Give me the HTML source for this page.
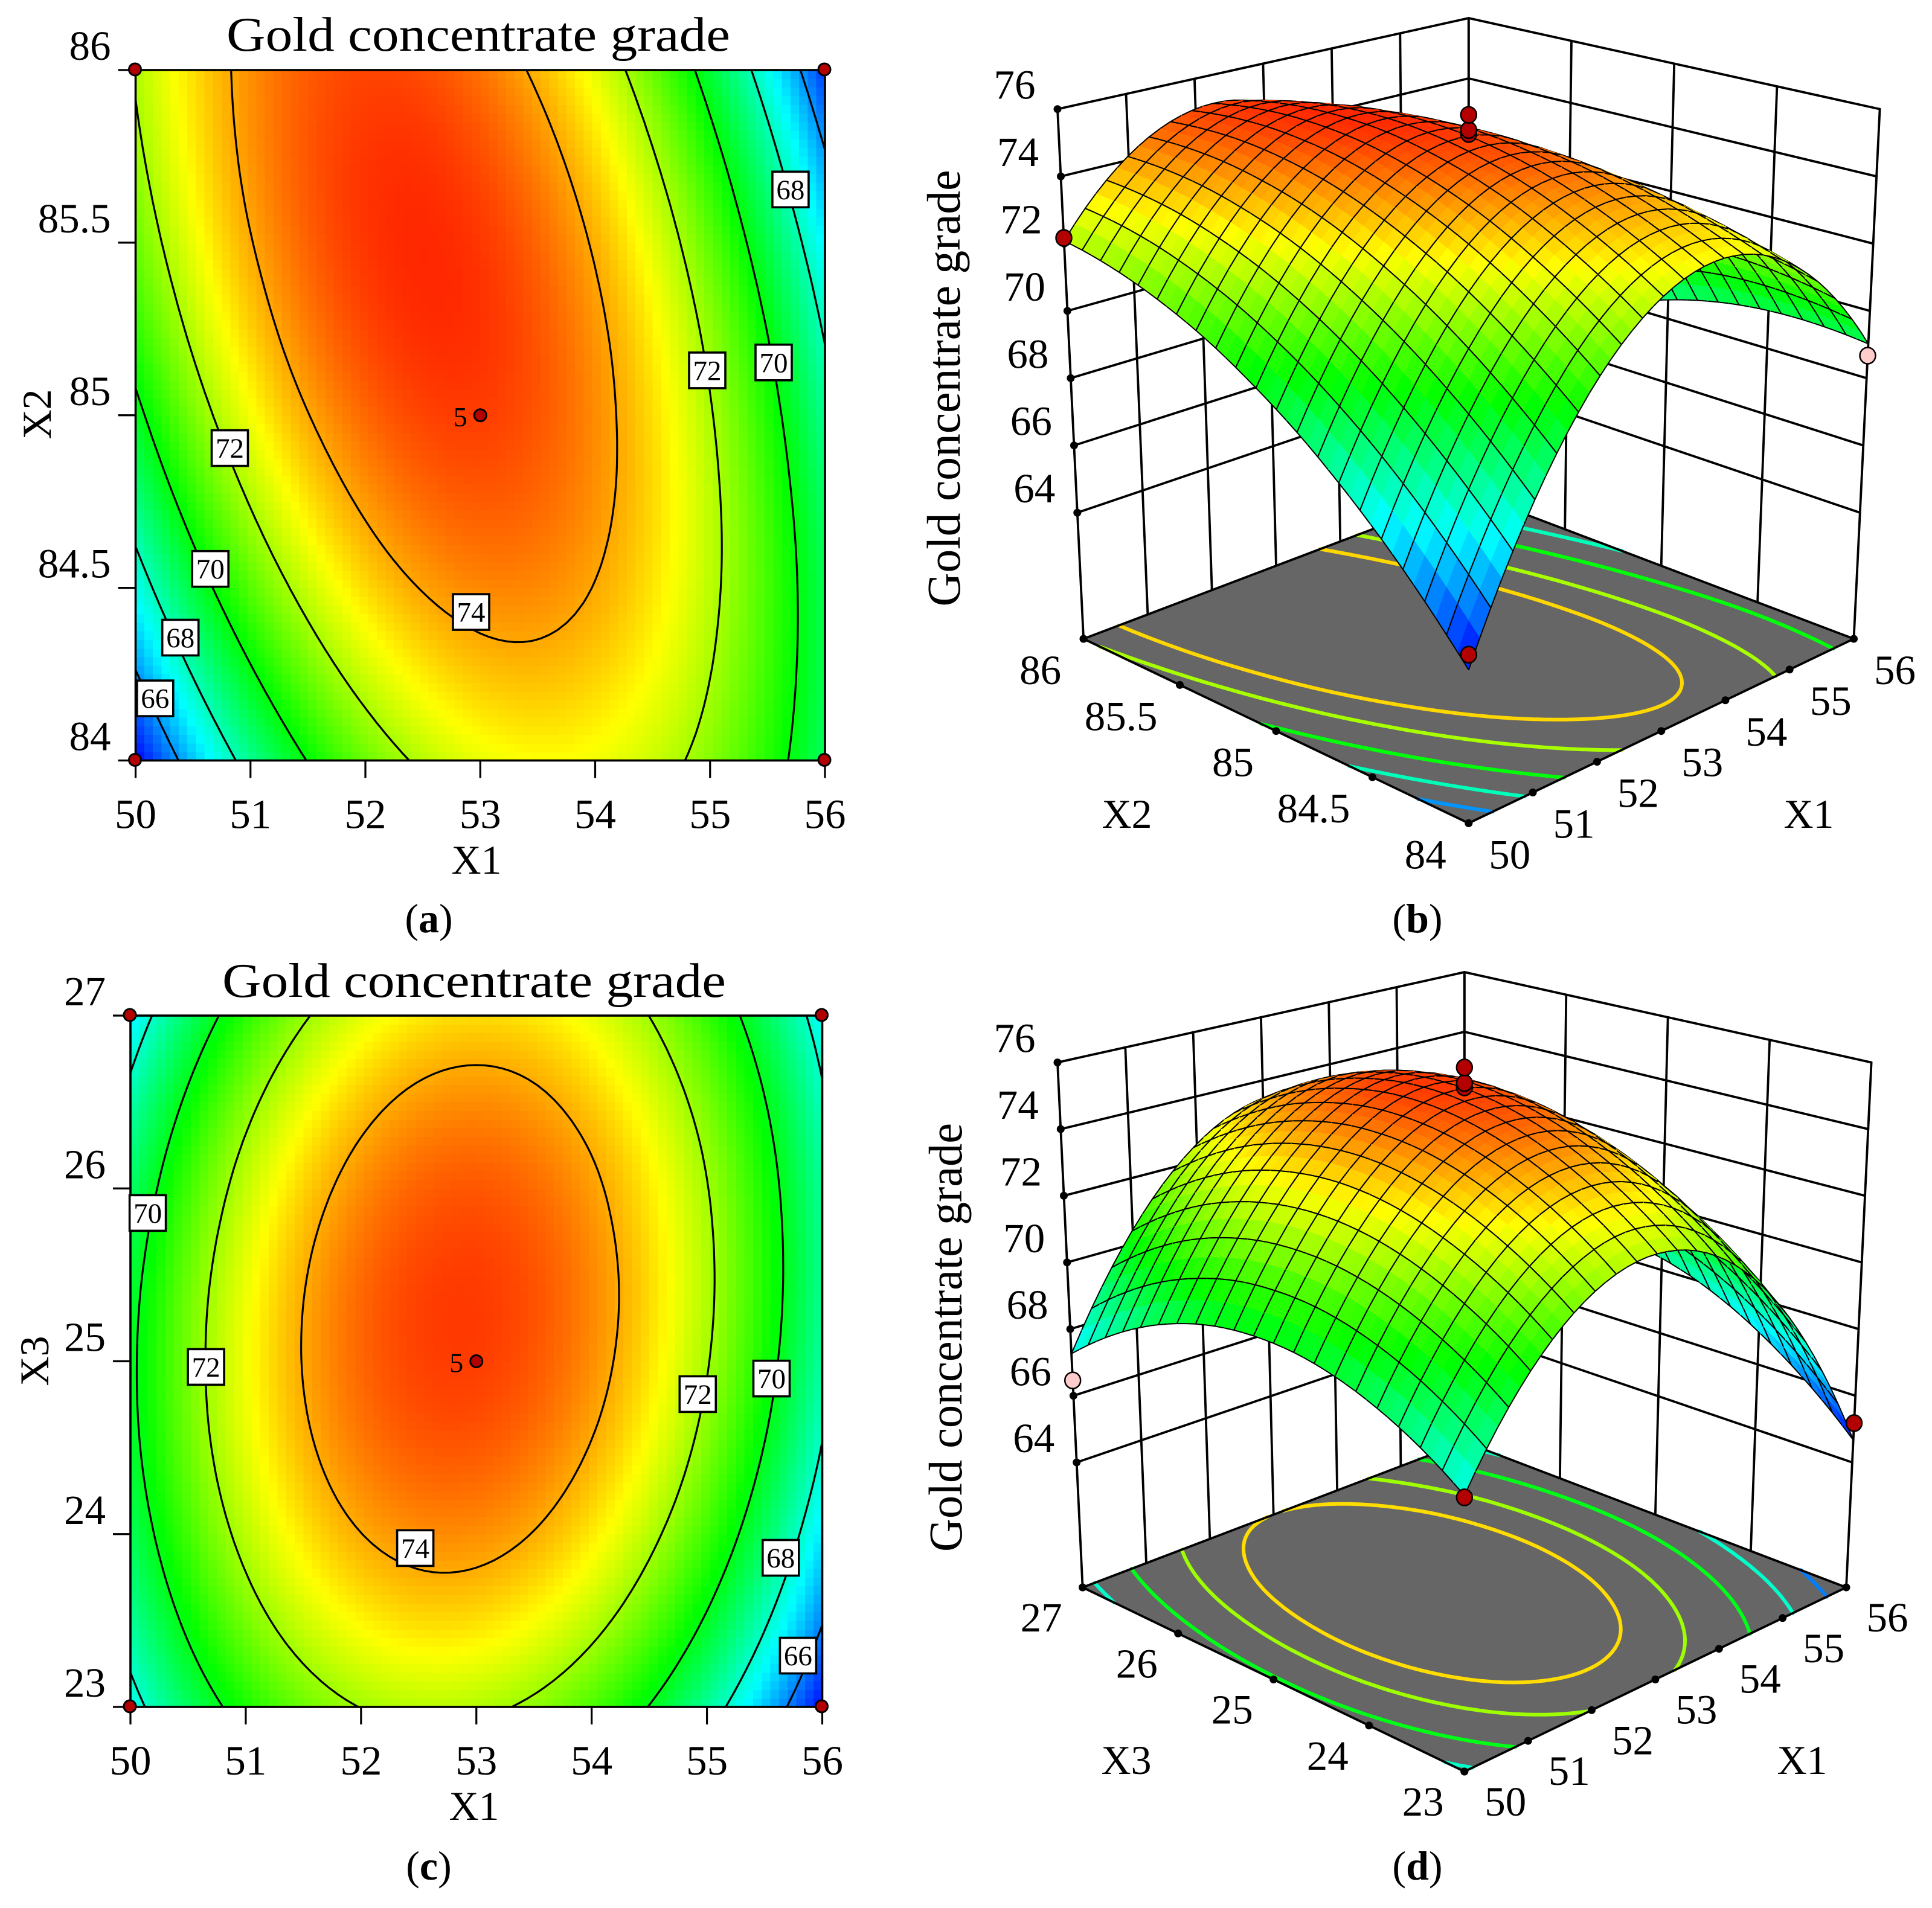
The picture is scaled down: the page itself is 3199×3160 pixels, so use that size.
<!DOCTYPE html>
<html lang="en">
<head>
<meta charset="utf-8">
<title>Gold concentrate grade response surfaces</title>
<style>
html,body{margin:0;padding:0;background:#fff;}
svg{display:block;font-family:"Liberation Serif",serif;}
text{fill:#000;}
</style>
</head>
<body>
<svg id="figure" xmlns="http://www.w3.org/2000/svg" width="3199" height="3160" viewBox="0 0 3199 3160">
<rect x="0" y="0" width="3199" height="3160" fill="#fff"/>
<g id="p-a"></g>
<g id="p-b"></g>
<g id="p-c"></g>
<g id="p-d"></g>
<g id="static-text">
<text x="792" y="84" font-size="80" text-anchor="middle" textLength="834" lengthAdjust="spacingAndGlyphs">Gold concentrate grade</text>
<text x="785" y="1651" font-size="80" text-anchor="middle" textLength="834" lengthAdjust="spacingAndGlyphs">Gold concentrate grade</text>
<text x="789" y="1447" font-size="68" text-anchor="middle">X1</text>
<text x="785" y="3014" font-size="68" text-anchor="middle">X1</text>
<text transform="translate(84 686) rotate(-90)" font-size="68" text-anchor="middle">X2</text>
<text transform="translate(80 2254) rotate(-90)" font-size="68" text-anchor="middle">X3</text>
<text transform="translate(1589 643) rotate(-90)" font-size="78" text-anchor="middle" textLength="723" lengthAdjust="spacingAndGlyphs">Gold concentrate grade</text>
<text transform="translate(1592 2215) rotate(-90)" font-size="78" text-anchor="middle" textLength="710" lengthAdjust="spacingAndGlyphs">Gold concentrate grade</text>
<text x="1866" y="1371" font-size="68" text-anchor="middle">X2</text>
<text x="2995" y="1371" font-size="68" text-anchor="middle">X1</text>
<text x="1865" y="2938" font-size="68" text-anchor="middle">X3</text>
<text x="2984" y="2938" font-size="68" text-anchor="middle">X1</text>
<text x="710" y="1544" font-size="68" text-anchor="middle">(<tspan font-weight="bold">a</tspan>)</text>
<text x="2347" y="1544" font-size="68" text-anchor="middle">(<tspan font-weight="bold">b</tspan>)</text>
<text x="710" y="3113" font-size="68" text-anchor="middle">(<tspan font-weight="bold">c</tspan>)</text>
<text x="2347" y="3113" font-size="68" text-anchor="middle">(<tspan font-weight="bold">d</tspan>)</text>
</g>
</svg>
<script>
// ---------- data ----------
const x1Ticks = [50,51,52,53,54,55,56];
const x2Ticks = [84,84.5,85,85.5,86];
const x3Ticks = [23,24,25,26,27];
const zTicks = [64,66,68,70,72,74,76];
const contourLevels = [66,68,70,72,74];
const floorContourLevels = [66,68,70,72,73.45];

// grade over X1 (columns, 50..56 in 0.6 steps) and X2 (rows, 84..86 in 0.2 steps)
const gradeX1X2 = [
[64.28,66.95,69.13,70.83,72.03,72.75,72.98,72.72,71.97,70.74,69.02],
[65.61,68.16,70.22,71.80,72.88,73.48,73.59,73.21,72.35,70.99,69.15],
[66.82,69.25,71.19,72.65,73.61,74.09,74.08,73.59,72.60,71.13,69.17],
[67.90,70.22,72.04,73.38,74.23,74.59,74.46,73.84,72.74,71.15,69.07],
[68.87,71.06,72.76,73.98,74.71,74.95,74.70,73.97,72.75,71.03,68.84],
[69.70,71.78,73.37,74.46,75.07,75.20,74.83,73.97,72.63,70.80,68.48],
[70.43,72.38,73.85,74.83,75.32,75.32,74.83,73.86,72.40,70.45,68.01],
[71.02,72.85,74.20,75.06,75.43,75.32,74.71,73.62,72.04,69.97,67.42],
[71.49,73.21,74.44,75.18,75.43,75.20,74.47,73.26,71.56,69.37,66.70],
[71.85,73.44,74.55,75.17,75.31,74.95,74.11,72.78,70.96,68.66,65.86],
[72.08,73.56,74.55,75.05,75.07,74.59,73.63,72.18,70.25,67.82,64.91]
];
// grade over X1 (columns, 50..56 in 0.6 steps) and X3 (rows, 23..27 in 0.4 steps)
const gradeX1X3 = [
[67.56,69.47,70.89,71.82,72.26,72.21,71.68,70.66,69.15,67.15,64.67],
[68.39,70.33,71.78,72.74,73.22,73.20,72.70,71.71,70.23,68.27,65.81],
[69.02,70.99,72.47,73.47,73.97,73.99,73.52,72.56,71.11,69.18,66.75],
[69.47,71.47,72.98,74.01,74.54,74.59,74.15,73.22,71.81,69.90,67.51],
[69.73,71.76,73.30,74.36,74.92,75.00,74.59,73.70,72.31,70.44,68.08],
[69.79,71.85,73.43,74.51,75.11,75.22,74.84,73.98,72.62,70.78,68.45],
[69.67,71.76,73.36,74.48,75.11,75.25,74.90,74.07,72.74,70.93,68.63],
[69.35,71.47,73.11,74.25,74.91,75.09,74.77,73.96,72.67,70.89,68.62],
[68.84,71.00,72.67,73.84,74.54,74.74,74.45,73.68,72.42,70.67,68.43],
[68.14,70.33,72.03,73.23,73.96,74.19,73.94,73.19,71.96,70.25,68.04],
[67.26,69.47,71.20,72.44,73.20,73.46,73.24,72.53,71.33,69.64,67.46]
];

// design points printed on the plots
const pointsAx1 = [50,56,50,56];
const pointsAx2 = [84,84,86,86];
const pointsCx1 = [50,56,50,56];
const pointsCx3 = [23,23,27,27];
const pointsBx1 = [50,56,53,53,53,50];
const pointsBx2 = [86,84,85,85,85,84];
const pointsBz  = [72.17,68.67,75.26,75.38,75.83,64.68];
const pointsBpale = [0,1,0,0,0,0];
const pointsDx1 = [50,56,53,53,53,50];
const pointsDx3 = [27,23,25,25,25,23];
const pointsDz  = [66.46,65.18,75.25,75.38,75.85,67.51];
const pointsDpale = [1,0,0,0,0,0];

// contour label anchors in data units
const labelsAlevel = [72,70,68,66,74,68,72,70];
const labelsAx1 = [50.82,50.65,50.39,50.17,52.92,55.70,54.975,55.553];
const labelsAx2 = [84.905,84.555,84.356,84.18,84.43,85.654,85.13,85.153];
const labelsClevel = [70,72,74,72,70,68,66];
const labelsCx1 = [50.15,50.655,52.47,54.92,55.56,55.64,55.79];
const labelsCx3 = [25.858,24.967,23.919,24.81,24.9,23.863,23.297];

// ---------- helpers ----------
const NS = 'http://www.w3.org/2000/svg';
function mk(parent, tag, attrs, txt){
  const e = document.createElementNS(NS, tag);
  for(const k in attrs) e.setAttribute(k, attrs[k]);
  if(txt !== undefined) e.textContent = txt;
  parent.appendChild(e);
  return e;
}
function fmt(v){ return v.toFixed(1); }

function colorOf(z, lo, hi){
  let t = (z-lo)/(hi-lo)*4;
  t = Math.max(0, Math.min(4, t));
  let r=0,g=0,b=0;
  if(t<1){ g=t; b=1; }
  else if(t<2){ g=1; b=2-t; }
  else if(t<3){ r=t-2; g=1; }
  else { r=1; g=4-t; }
  return 'rgb('+Math.round(r*255)+','+Math.round(g*255)+','+Math.round(b*255)+')';
}

function lagrange(t){
  return [ -(t-1)*(t-2)*(t-3)/6, t*(t-2)*(t-3)/2, -t*(t-1)*(t-3)/2, t*(t-1)*(t-2)/6 ];
}
// smooth read-out of a gradient table at fractional column u / row v
function readGrid(grid, u, v){
  const iu = Math.max(0, Math.min(grid[0].length-4, Math.floor(u)-1));
  const iv = Math.max(0, Math.min(grid.length-4, Math.floor(v)-1));
  const wu = lagrange(u-iu), wv = lagrange(v-iv);
  let s = 0;
  for(let a=0;a<4;a++) for(let b=0;b<4;b++) s += wv[a]*wu[b]*grid[iv+a][iu+b];
  return s;
}

function sampleField(grid, M){
  const f = [];
  const cols = grid[0].length-1, rows = grid.length-1;
  for(let j=0;j<=M;j++){
    const row = [];
    for(let i=0;i<=M;i++) row.push(readGrid(grid, i/M*cols, j/M*rows));
    f.push(row);
  }
  return f;
}
// marching squares: returns path data for one level
function contourPath(field, M, level, toXY){
  let d = '';
  for(let j=0;j<M;j++) for(let i=0;i<M;i++){
    const a=field[j][i], b=field[j][i+1], c=field[j+1][i+1], e=field[j+1][i];
    const pts=[];
    if((a-level)*(b-level)<0) pts.push([i+(level-a)/(b-a), j]);
    if((b-level)*(c-level)<0) pts.push([i+1, j+(level-b)/(c-b)]);
    if((e-level)*(c-level)<0) pts.push([i+(level-e)/(c-e), j+1]);
    if((a-level)*(e-level)<0) pts.push([i, j+(level-a)/(e-a)]);
    for(let k=0;k+1<pts.length;k+=2){
      const p=toXY(pts[k][0]/M, pts[k][1]/M), q=toXY(pts[k+1][0]/M, pts[k+1][1]/M);
      d += 'M'+fmt(p[0])+' '+fmt(p[1])+'L'+fmt(q[0])+' '+fmt(q[1]);
    }
  }
  return d;
}

// ---------- 2D contour panel ----------
function contourPanel(host, grid, box, yTicks, yName, ptsX, ptsY, lblL, lblX, lblY, centre, lo, hi){
  const sx = v => box.l + (v-x1Ticks[0])/(x1Ticks[6]-x1Ticks[0])*(box.r-box.l);
  const sy = v => box.b - (v-yTicks[0])/(yTicks[yTicks.length-1]-yTicks[0])*(box.b-box.t);
  const N = 80;
  const cols = grid[0].length-1, rows = grid.length-1;
  const cw = (box.r-box.l)/N, ch = (box.b-box.t)/N;
  const heat = mk(host,'g',{'shape-rendering':'crispEdges'});
  
  
  for(let j=0;j<N;j++) for(let i=0;i<N;i++){
    const z = readGrid(grid,(i+.5)/N*cols,(j+.5)/N*rows);
    const r = mk(heat,'rect',{x:fmt(box.l+i*cw),y:fmt(box.b-(j+1)*ch),width:fmt(cw+.6),height:fmt(ch+.6),fill:colorOf(z,lo,hi)});
    
    
  }
  const M = 80;
  const field = sampleField(grid,M);
  const toXY = (fu,fv)=>[box.l+fu*(box.r-box.l), box.b-fv*(box.b-box.t)];
  contourLevels.forEach(level=>{
    const p = mk(host,'path',{d:contourPath(field,M,level,toXY),fill:'none',stroke:'#000','stroke-width':3.2,'stroke-linecap':'round'});
    
    
  });
  const frame = mk(host,'rect',{x:box.l,y:box.t,width:box.r-box.l,height:box.b-box.t,fill:'none',stroke:'#000','stroke-width':3.6});
  
  
  x1Ticks.forEach(t=>{
    const x=sx(t);
    const tick = mk(host,'line',{x1:x,x2:x,y1:box.b,y2:box.b+29,stroke:'#000','stroke-width':3.2});
    
    
    const lab = mk(host,'text',{x:x,y:box.b+112,'font-size':69,'text-anchor':'middle'},String(t));
    
    
  });
  yTicks.forEach(t=>{
    const y=sy(t);
    const tick = mk(host,'line',{x1:box.l-29,x2:box.l,y1:y,y2:y,stroke:'#000','stroke-width':3.2});
    
    
    const lab = mk(host,'text',{x:box.l-41,y:y-17,'font-size':69,'text-anchor':'end'},String(t));
    
    
  });
  lblL.forEach((lv,i)=>{
    const x=sx(lblX[i]), y=sy(lblY[i]);
    const r = mk(host,'rect',{x:fmt(x-30),y:fmt(y-29.5),width:60,height:59,fill:'#fff',stroke:'#000','stroke-width':3.6});
    
    
    const t = mk(host,'text',{x:fmt(x),y:fmt(y+16),'font-size':47,'text-anchor':'middle'},String(lv));
    
    
  });
  ptsX.forEach((v,i)=>{
    const c = mk(host,'circle',{cx:sx(v)-1,cy:sy(ptsY[i])-1,r:10,fill:'#b30000',stroke:'#000','stroke-width':3});
    
    
  });
  const cx=sx(centre[0]), cy=sy(centre[1]);
  const c = mk(host,'circle',{cx:cx,cy:cy,r:10,fill:'#b30000',stroke:'#000','stroke-width':3});
  
  
  const five = mk(host,'text',{x:cx-33,y:cy+18,'font-size':46,'text-anchor':'middle'},String(centre[2]));
  
  
}

// ---------- 3D surface panel ----------
function surfacePanel(host, grid, cam, sideTicks, sideName, ptsX, ptsS, ptsZ, ptsPale, lo, hi){
  const proj = (p,q,z)=>{
    const h=p-q, dep=p+q, W=1+cam.C*dep, dz=z-cam.zf;
    return [cam.cx+cam.f*h*(1+cam.g*dz)/W, cam.cy-(cam.A*dep+cam.S*dz)/W];
  };
  const lerp = (a,b,t)=>[a[0]+(b[0]-a[0])*t, a[1]+(b[1]-a[1])*t];
  const zTop = zTicks[zTicks.length-1];
  const Lf=proj(-1,1,cam.zf), Bf=proj(1,1,cam.zf), Rf=proj(1,-1,cam.zf), Ff=proj(-1,-1,cam.zf);
  const Lt=proj(-1,1,zTop), Bt=proj(1,1,zTop), Rt=proj(1,-1,zTop);
  const line=(a,b,name,w)=>{
    const l = mk(host,'line',{x1:fmt(a[0]),y1:fmt(a[1]),x2:fmt(b[0]),y2:fmt(b[1]),stroke:'#000','stroke-width':w||3.8,'stroke-linecap':'round'});
    
    
  };
  // back walls
  for(let i=0;i<x1Ticks.length;i++){
    const t=i/(x1Ticks.length-1);
    line(lerp(Lf,Bf,t),lerp(Lt,Bt,t),'left-wall-gridline');
  }
  for(let i=0;i<sideTicks.length;i++){
    const t=i/(sideTicks.length-1);
    line(lerp(Bf,Rf,t),lerp(Bt,Rt,t),'right-wall-gridline');
  }
  zTicks.forEach(z=>{
    line(proj(-1,1,z),proj(1,1,z),'left-wall-level-line');
    line(proj(1,1,z),proj(1,-1,z),'right-wall-level-line');
  });
  // floor
  const floor = mk(host,'polygon',{points:[Lf,Bf,Rf,Ff].map(p=>fmt(p[0])+','+fmt(p[1])).join(' '),fill:'#666666'});
  
  
  const M=80;
  const field=sampleField(grid,M);
  const toFloor=(fu,fv)=>{
    const a=lerp(Ff,Rf,fu), b=lerp(Lf,Bf,fu);
    return lerp(a,b,fv);
  };
  floorContourLevels.forEach(level=>{
    const p = mk(host,'path',{d:contourPath(field,M,level,toFloor),fill:'none',stroke:colorOf(level,lo,hi),'stroke-width':6,'stroke-linecap':'round'});
    
    
  });
  line(Lf,Bf,'floor-edge');
  line(Bf,Rf,'floor-edge');
  line(Rf,Ff,'floor-edge');
  line(Ff,Lf,'floor-edge');
  // surface, painted back to front
  const n=40, cols=grid[0].length-1, rows=grid.length-1;
  const Z=[];
  for(let j=0;j<=n;j++){
    const r=[];
    for(let i=0;i<=n;i++) r.push(readGrid(grid,i/n*cols,j/n*rows));
    Z.push(r);
  }
  const P=(i,j)=>proj(2*i/n-1,2*j/n-1,Z[j][i]);
  const order=[];
  for(let j=0;j<n;j++) for(let i=0;i<n;i++) order.push([i,j]);
  order.sort((a,b)=>(b[0]+b[1])-(a[0]+a[1]));
  const surf = mk(host,'g',{});
  
  
  order.forEach(o=>{
    const i=o[0], j=o[1];
    const a=P(i,j), b=P(i+1,j), c=P(i+1,j+1), d=P(i,j+1);
    const zc=readGrid(grid,(i+.5)/n*cols,(j+.5)/n*rows);
    const col=colorOf(zc,lo,hi);
    const f = mk(surf,'polygon',{points:[a,b,c,d].map(p=>fmt(p[0])+','+fmt(p[1])).join(' '),fill:col,stroke:col,'stroke-width':.8});
    
    
    const e1 = i%2===0 ? [a,d] : [b,c];
    const e2 = j%2===0 ? [a,b] : [d,c];
    const ed = 'M'+fmt(e1[0][0])+' '+fmt(e1[0][1])+'L'+fmt(e1[1][0])+' '+fmt(e1[1][1])+'M'+fmt(e2[0][0])+' '+fmt(e2[0][1])+'L'+fmt(e2[1][0])+' '+fmt(e2[1][1]);
    const m = mk(surf,'path',{d:ed,fill:'none',stroke:'#000','stroke-width':2});
    
    
  });
  // nodes and tick labels
  const node=(p,name)=>{
    const c = mk(host,'circle',{cx:fmt(p[0]),cy:fmt(p[1]),r:6.5,fill:'#000'});
    
    
  };
  zTicks.forEach(z=>{
    const p=proj(-1,1,z);
    node(p,'z-tick-node');
    const t = mk(host,'text',{x:fmt(p[0]-71),y:fmt(p[1]-17),'font-size':69,'text-anchor':'middle'},String(z));
    
    
  });
  node(Lf,'z-axis-base-node');
  x1Ticks.forEach((v,i)=>{
    const p=lerp(Ff,Rf,i/(x1Ticks.length-1));
    node(p,'x1-tick-node');
    const t = mk(host,'text',{x:fmt(p[0]+68),y:fmt(p[1]+cam.ly+23),'font-size':69,'text-anchor':'middle'},String(v));
    
    
  });
  sideTicks.forEach((v,i)=>{
    const p=lerp(Ff,Lf,i/(sideTicks.length-1));
    node(p,sideName+'-tick-node');
    const t = mk(host,'text',{x:fmt(p[0]-cam.lx),y:fmt(p[1]+cam.ly+23),'font-size':69,'text-anchor':'end'},String(v));
    
    
  });
  // design points
  const sLo=sideTicks[0], sHi=sideTicks[sideTicks.length-1];
  ptsX.forEach((v,i)=>{
    const p=(v-x1Ticks[0])/(x1Ticks[6]-x1Ticks[0])*2-1;
    const q=(ptsS[i]-sLo)/(sHi-sLo)*2-1;
    const xy=proj(p,q,ptsZ[i]);
    const c = mk(host,'ellipse',{cx:fmt(xy[0]),cy:fmt(xy[1]),rx:13,ry:13.5,fill:ptsPale[i]?'#ffcccc':'#b30000',stroke:'#000','stroke-width':2.5});
    
    
  });
}

// ---------- draw ----------
contourPanel(document.getElementById('p-a'), gradeX1X2, {l:224.5,r:1366,t:116,b:1259.5}, x2Ticks, 'x2',
  pointsAx1, pointsAx2, labelsAlevel, labelsAx1, labelsAx2, [53,85,5], 64.3, 75.9);
contourPanel(document.getElementById('p-c'), gradeX1X3, {l:216,r:1361.5,t:1682,b:2827}, x3Ticks, 'x3',
  pointsCx1, pointsCx3, labelsClevel, labelsCx1, labelsCx3, [53,25,5], 64.6, 75.9);
surfacePanel(document.getElementById('p-b'), gradeX1X2,
  {cx:2431.8,cy:1058,f:318.85,g:.00429,C:.058,A:135,S:55.7,zf:60.25,ly:52,lx:37},
  x2Ticks,'x2',pointsBx1,pointsBx2,pointsBz,pointsBpale,64.3,75.9);
surfacePanel(document.getElementById('p-d'), gradeX1X3,
  {cx:2424.8,cy:2629,f:316.1,g:.00418,C:.0587,A:134.6,S:55.2,zf:60.25,ly:50,lx:34},
  x3Ticks,'x3',pointsDx1,pointsDx3,pointsDz,pointsDpale,64.6,75.9);
</script>
</body>
</html>
